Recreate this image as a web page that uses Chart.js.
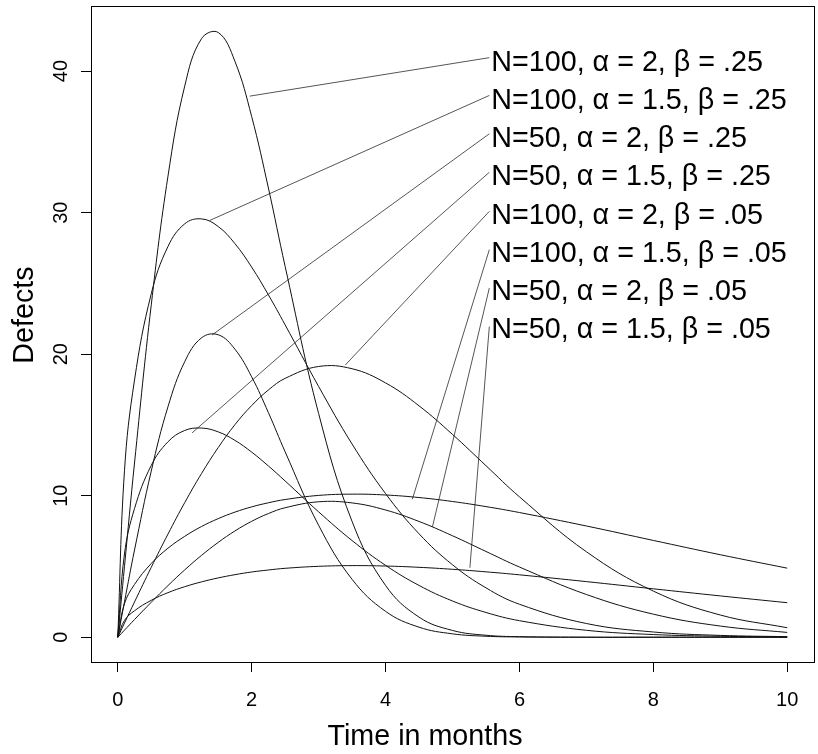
<!DOCTYPE html>
<html>
<head>
<meta charset="utf-8">
<title>Defects over time</title>
<script src="https://cdn.jsdelivr.net/npm/chart.js@4.4.1/dist/chart.umd.min.js"></script>
<style>
  html, body { margin: 0; padding: 0; background: #fff; }
  #wrap { width: 818px; height: 754px; position: relative; }
</style>
</head>
<body>
<div id="wrap"><canvas id="chart"></canvas></div>
<script>
// time axis (months) shared by every curve
const months = [0, 0.1, 0.25, 0.5, 0.75, 1, 1.25, 1.5, 1.75, 2, 2.25, 2.5, 3, 3.5, 4, 4.5, 5, 5.5, 6, 7, 8, 9, 10];

// defects per curve
const n100a2b25 = [0, 4.99, 12.31, 23.48, 32.58, 38.94, 42.29, 42.73, 40.69, 36.79, 31.74, 26.20, 15.81, 8.18, 3.66, 1.42, 0.48, 0.14, 0.04, 0, 0, 0, 0];
const n100a15b25 = [0, 11.76, 18.17, 24.27, 27.61, 29.21, 29.56, 29.02, 27.81, 26.15, 24.19, 22.07, 17.72, 13.65, 10.15, 7.31, 5.12, 3.49, 2.33, 0.97, 0.37, 0.13, 0.04];
const n50a2b25 = [0, 2.50, 6.16, 11.74, 16.29, 19.47, 21.15, 21.37, 20.35, 18.40, 15.87, 13.10, 7.91, 4.09, 1.83, 0.71, 0.24, 0.07, 0.02, 0, 0, 0, 0];
const n50a15b25 = [0, 5.88, 9.09, 12.14, 13.81, 14.61, 14.78, 14.51, 13.91, 13.08, 12.10, 11.04, 8.86, 6.83, 5.08, 3.66, 2.56, 1.75, 1.17, 0.49, 0.19, 0.07, 0.02];
const n100a2b05 = [0, 1.00, 2.49, 4.94, 7.29, 9.51, 11.56, 13.40, 15.02, 16.37, 17.47, 18.29, 19.13, 18.97, 17.97, 16.35, 14.33, 12.12, 9.92, 6.04, 3.26, 1.57, 0.67];
const n100a15b05 = [0, 2.37, 3.73, 5.21, 6.29, 7.13, 7.82, 8.38, 8.84, 9.21, 9.50, 9.73, 10.02, 10.11, 10.05, 9.87, 9.59, 9.23, 8.81, 7.86, 6.84, 5.83, 4.88];
const n50a2b05 = [0, 0.50, 1.25, 2.47, 3.65, 4.76, 5.78, 6.70, 7.51, 8.19, 8.74, 9.15, 9.57, 9.49, 8.99, 8.18, 7.17, 6.06, 4.96, 3.02, 1.63, 0.79, 0.34];
const n50a15b05 = [0, 1.19, 1.87, 2.61, 3.15, 3.57, 3.91, 4.19, 4.42, 4.61, 4.75, 4.87, 5.01, 5.06, 5.03, 4.94, 4.80, 4.62, 4.41, 3.93, 3.42, 2.92, 2.44];

const series = [n100a2b25, n100a15b25, n50a2b25, n50a15b25, n100a2b05, n100a15b05, n50a2b05, n50a15b05];

// curve labels and their leader lines (data units)
const labelNames = [
  "N=100, \u03b1 = 2, \u03b2 = .25",
  "N=100, \u03b1 = 1.5, \u03b2 = .25",
  "N=50, \u03b1 = 2, \u03b2 = .25",
  "N=50, \u03b1 = 1.5, \u03b2 = .25",
  "N=100, \u03b1 = 2, \u03b2 = .05",
  "N=100, \u03b1 = 1.5, \u03b2 = .05",
  "N=50, \u03b1 = 2, \u03b2 = .05",
  "N=50, \u03b1 = 1.5, \u03b2 = .05"
];
const labelX = 5.58;
const labelY = [40.58, 37.88, 35.18, 32.48, 29.78, 27.08, 24.38, 21.68];
const leaderStartX = 5.55;
const leaderStartY = [40.95, 38.28, 35.57, 32.85, 30.09, 27.38, 24.67, 21.95];
const leaderEndX = [1.97, 1.375, 1.41, 1.11, 3.40, 4.40, 4.70, 5.26];
const leaderEndY = [38.23, 29.45, 21.36, 14.44, 19.24, 9.75, 7.79, 4.91];

const xTicks = [0, 2, 4, 6, 8, 10];
const yTicks = [0, 10, 20, 30, 40];

const FONT = '"Liberation Sans", Arial, sans-serif';

const datasets = [];
series.forEach(vals => {
  datasets.push({
    data: vals.map((v, i) => ({ x: months[i], y: v })),
    borderColor: '#111',
    borderWidth: 1,
    pointRadius: 0,
    tension: 0.4,
    fill: false
  });
});
labelNames.forEach((s, i) => {
  datasets.push({
    data: [{ x: leaderStartX, y: leaderStartY[i] }, { x: leaderEndX[i], y: leaderEndY[i] }],
    borderColor: '#555',
    borderWidth: 1,
    pointRadius: 0,
    tension: 0,
    fill: false
  });
});

// R-style box, rotated y labels, curve labels and axis titles
const rDecor = {
  id: 'rDecor',
  afterDraw(chart) {
    const { ctx, chartArea: a, scales: { x, y } } = chart;
    ctx.save();
    ctx.strokeStyle = '#000';
    ctx.lineWidth = 1;
    ctx.strokeRect(a.left + 0.5, a.top + 0.5, a.right - a.left, a.bottom - a.top);

    ctx.fillStyle = '#000';
    ctx.font = '20px ' + FONT;
    ctx.textAlign = 'center';
    ctx.textBaseline = 'alphabetic';
    yTicks.forEach(v => {
      ctx.save();
      ctx.translate(67, y.getPixelForValue(v));
      ctx.rotate(-Math.PI / 2);
      ctx.fillText(String(v), 0, 0);
      ctx.restore();
    });

    ctx.font = '28.7px ' + FONT;
    ctx.textAlign = 'left';
    ctx.textBaseline = 'middle';
    labelNames.forEach((s, i) => {
      ctx.fillText(s, x.getPixelForValue(labelX), y.getPixelForValue(labelY[i]));
    });

    ctx.textAlign = 'center';
    ctx.textBaseline = 'alphabetic';
    ctx.fillText('Time in months', 425, 745);
    ctx.save();
    ctx.translate(33, 315);
    ctx.rotate(-Math.PI / 2);
    ctx.fillText('Defects', 0, 0);
    ctx.restore();
    ctx.restore();
  }
};

new Chart(document.getElementById('chart'), {
  type: 'line',
  data: { datasets },
  plugins: [rDecor],
  options: {
    responsive: true,
    maintainAspectRatio: false,
    animation: false,
    devicePixelRatio: 1,
    layout: { padding: { left: 0, top: 6, right: 4, bottom: 0 } },
    plugins: { legend: { display: false }, tooltip: { enabled: false } },
    scales: {
      x: {
        type: 'linear',
        min: -0.4,
        max: 10.4,
        afterBuildTicks: s => { s.ticks = xTicks.map(v => ({ value: v })); },
        afterFit: s => { s.height = 92; },
        grid: { drawOnChartArea: false, drawTicks: true, tickLength: 10, color: '#000', lineWidth: 1 },
        border: { display: false },
        ticks: { color: '#000', font: { family: FONT, size: 20 }, padding: 16, maxRotation: 0 }
      },
      y: {
        type: 'linear',
        min: -1.75,
        max: 44.6,
        afterBuildTicks: s => { s.ticks = yTicks.map(v => ({ value: v })); },
        afterFit: s => { s.width = 91; },
        grid: { drawOnChartArea: false, drawTicks: true, tickLength: 10, color: '#000', lineWidth: 1 },
        border: { display: false },
        ticks: { display: false }
      }
    }
  }
});
</script>
</body>
</html>
